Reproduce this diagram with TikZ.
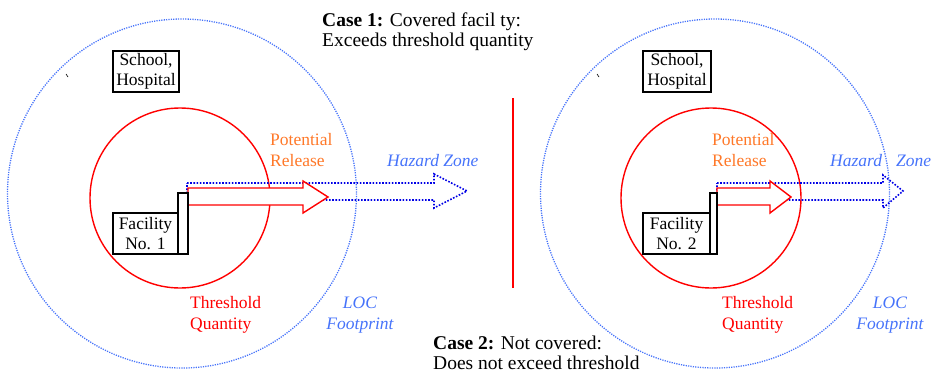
\documentclass[tikz,border=0pt]{standalone}
\usepackage{fontspec}
\setmainfont{Liberation Serif}
\definecolor{locblue}{RGB}{70,115,250}
\definecolor{arrblue}{RGB}{0,0,230}
\definecolor{relorange}{RGB}{255,120,40}
\definecolor{thred}{RGB}{255,0,0}
\tikzset{
  txt/.style={inner sep=0pt, font=\fontsize{17.5}{20.5}\selectfont},
  casetxt/.style={inner sep=0pt, align=left, anchor=north west, font=\fontsize{19.5}{20.5}\selectfont},
  locfoot/.style={locblue, line width=1.3pt, dash pattern=on 1.2pt off 1.2pt},
  threshcirc/.style={thred, line width=1.4pt},
  hazarrow/.style={arrblue, line width=1.6pt, dash pattern=on 1.6pt off 1.6pt},
  relarrow/.style={thred, line width=1.4pt, fill=white},
  blackbox/.style={draw=black, line width=2.2pt, fill=white, inner sep=0pt, align=center, font=\fontsize{17.5}{20.5}\selectfont},
  stackbox/.style={draw=black, line width=2.2pt, fill=white}
}
\begin{document}
\begin{tikzpicture}[x=1pt,y=-1pt]
\useasboundingbox (0,0) rectangle (935,372);
% ---------- Case 1 ----------
\draw[locfoot] (182,193.5) circle[radius=174.5];
\draw[threshcirc] (180,198) circle[radius=90];
\draw[hazarrow] (187,183) -- (434,183) -- (434,174) -- (467,191) -- (434,208) -- (434,200) -- (187,200) -- cycle;
\draw[relarrow] (188,188) -- (303,188) -- (303,181) -- (328,197) -- (303,213) -- (303,205) -- (188,205) -- cycle;
\draw[stackbox] (178,193) rectangle (188,254);
\node[blackbox, minimum width=65pt, minimum height=41pt] (fac1) at (145.5,233.5) {Facility\\No. 1};
\node[blackbox, minimum width=66pt, minimum height=41pt] (school1) at (146,71.5) {School,\\Hospital};
\draw[black, line width=0.6pt] (66,74) -- (68,77);
\node[casetxt] (case1) at (322,12.5) {\textbf{Case 1:} Covered facil ty:\\Exceeds threshold quantity};
\node[txt, anchor=west, align=left, text=relorange] (rel1) at (270,150) {Potential\\Release};
\node[txt, anchor=west, text=locblue] (haz1) at (387,161) {\itshape Hazard Zone};
\node[txt, anchor=west, align=left, text=thred] (thr1) at (190,315) {Threshold\\Quantity};
\node[txt, align=center, text=locblue] (loc1) at (360,315) {\itshape LOC\\\itshape Footprint};
% ---------- divider ----------
\coordinate (divtop) at (513,98);
\coordinate (divbot) at (513,288);
\draw[thred, line width=1.8pt] (divtop) -- (divbot);
% ---------- Case 2 ----------
\draw[locfoot] (715,193.5) circle[radius=174.5];
\draw[threshcirc] (711,198) circle[radius=90];
\draw[hazarrow] (717,183) -- (883,183) -- (883,175) -- (903,191) -- (883,208) -- (883,200) -- (717,200) -- cycle;
\draw[relarrow] (717,188) -- (770,188) -- (770,181) -- (791,197) -- (770,213) -- (770,205) -- (717,205) -- cycle;
\draw[stackbox] (710,193) rectangle (717,254);
\node[blackbox, minimum width=67pt, minimum height=41pt] (fac2) at (676.5,233.5) {Facility\\No. 2};
\node[blackbox, minimum width=68pt, minimum height=41pt] (school2) at (677,71.5) {School,\\Hospital};
\draw[black, line width=0.6pt] (597,74) -- (599,77);
\node[casetxt] (case2) at (433,335.5) {\textbf{Case 2:} Not covered:\\Does not exceed threshold};
\node[txt, anchor=west, align=left, text=relorange] (rel2) at (712,150) {Potential\\Release};
\node[txt, anchor=west, text=locblue] (haz2) at (830,161) {\itshape Hazard\hspace{14pt}Zone};
\node[txt, anchor=west, align=left, text=thred] (thr2) at (722,315) {Threshold\\Quantity};
\node[txt, align=center, text=locblue] (loc2) at (890,315) {\itshape LOC\\\itshape Footprint};
\end{tikzpicture}
\end{document}
